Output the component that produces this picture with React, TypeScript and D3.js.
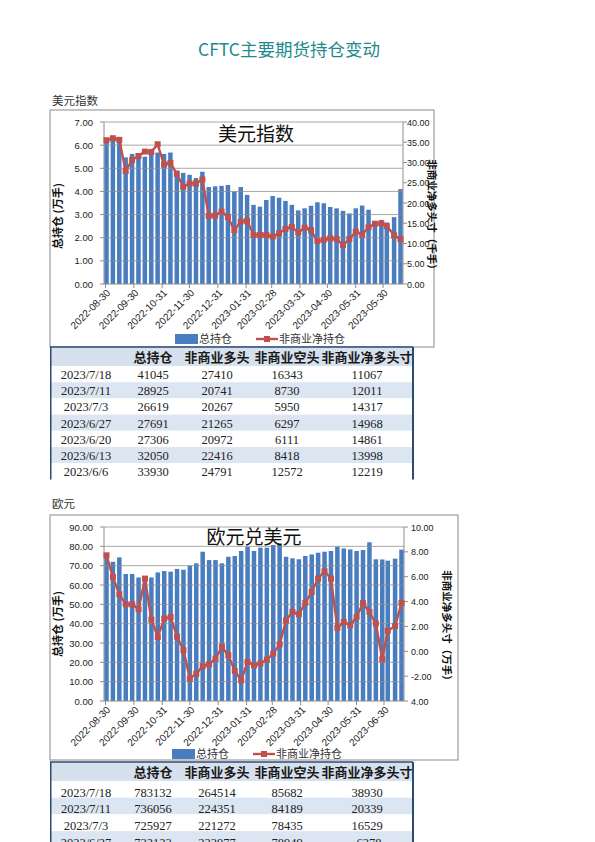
import React from 'react';
import * as d3 from 'd3';

const DATES = ["2022-08-30","2022-09-06","2022-09-13","2022-09-20","2022-09-27","2022-10-04","2022-10-11","2022-10-18","2022-10-25","2022-11-01","2022-11-08","2022-11-15","2022-11-22","2022-11-29","2022-12-06","2022-12-13","2022-12-20","2022-12-27","2023-01-03","2023-01-10","2023-01-17","2023-01-24","2023-01-31","2023-02-07","2023-02-14","2023-02-21","2023-02-28","2023-03-07","2023-03-14","2023-03-21","2023-03-28","2023-04-04","2023-04-11","2023-04-18","2023-04-25","2023-05-02","2023-05-09","2023-05-16","2023-05-23","2023-05-30","2023-06-06","2023-06-13","2023-06-20","2023-06-27","2023-07-03","2023-07-11","2023-07-18"];

const X_TICK_DATES = ["2022-08-30","2022-09-30","2022-10-31","2022-11-30","2022-12-31","2023-01-31","2023-02-28","2023-03-31","2023-04-30","2023-05-31","2023-06-30"];
const USD_X_LABELS = ["2022-08-30","2022-09-30","2022-10-31","2022-11-30","2022-12-31","2023-01-31","2023-02-28","2023-03-31","2023-04-30","2023-05-31","2023-05-30"];
const EUR_X_LABELS = ["2022-08-30","2022-09-30","2022-10-31","2022-11-30","2022-12-31","2023-01-31","2023-02-28","2023-03-31","2023-04-30","2023-05-31","2023-06-30"];

// 美元指数: 总持仓 (万手), 非商业净持仓 (千手)
const USD_TOTAL = [6.15, 6.28, 6.22, 5.47, 5.62, 5.54, 5.50, 5.70, 5.68, 5.62, 5.68, 4.90, 4.80, 4.72, 4.58, 4.85, 4.19, 4.22, 4.24, 4.28, 4.00, 4.19, 3.85, 3.42, 3.34, 3.63, 3.80, 3.73, 3.59, 3.42, 3.18, 3.27, 3.38, 3.53, 3.49, 3.33, 3.27, 3.16, 3.05, 3.27, 3.39, 3.21, 2.73, 2.77, 2.66, 2.89, 4.10];
const USD_NET = [35.5, 36.0, 35.6, 27.9, 30.6, 31.6, 32.7, 32.6, 34.5, 29.5, 29.9, 27.2, 24.0, 24.8, 24.8, 25.8, 16.8, 16.9, 17.9, 16.5, 13.3, 15.4, 15.6, 12.1, 12.1, 12.1, 11.7, 12.5, 13.6, 14.1, 12.7, 13.9, 13.3, 10.6, 10.9, 11.3, 11.1, 9.6, 11.1, 12.9, 12.22, 14.0, 14.86, 14.97, 14.32, 12.01, 11.07];
const USD_LEFT_TICKS = [0, 1, 2, 3, 4, 5, 6, 7];
const USD_LEFT_LABELS = ["0.00", "1.00", "2.00", "3.00", "4.00", "5.00", "6.00", "7.00"];
const USD_RIGHT_TICKS = [0, 5, 10, 15, 20, 25, 30, 35, 40];
const USD_RIGHT_LABELS = ["0.00", "5.00", "10.00", "15.00", "20.00", "25.00", "30.00", "35.00", "40.00"];

// 欧元: 总持仓 (万手), 非商业净持仓 (万手)
const EUR_TOTAL = [75.5, 72.0, 74.3, 65.7, 65.7, 63.9, 63.9, 63.9, 66.5, 67.2, 66.9, 68.3, 67.9, 70.0, 71.2, 77.2, 72.9, 72.9, 71.2, 74.6, 75.0, 77.6, 79.8, 77.6, 79.3, 79.3, 80.7, 81.6, 74.6, 73.8, 73.3, 75.0, 75.8, 76.7, 77.2, 77.6, 79.8, 78.9, 78.4, 77.6, 78.1, 82.1, 73.3, 73.2, 72.6, 73.6, 78.3];
const EUR_NET = [7.72, 5.98, 4.58, 3.78, 3.78, 3.38, 5.85, 2.55, 1.15, 2.63, 2.76, 1.18, 0.08, -2.2, -1.8, -1.2, -1.05, -0.59, 0.35, -0.32, -1.58, -2.33, -0.86, -1.13, -0.99, -0.67, -0.19, 0.56, 2.49, 3.16, 2.98, 3.89, 4.77, 5.85, 6.44, 5.85, 1.88, 2.36, 2.09, 2.76, 3.89, 3.16, 2.23, -0.64, 1.65, 2.03, 3.89];
const EUR_LEFT_TICKS = [0, 10, 20, 30, 40, 50, 60, 70, 80, 90];
const EUR_LEFT_LABELS = ["0.00", "10.00", "20.00", "30.00", "40.00", "50.00", "60.00", "70.00", "80.00", "90.00"];
const EUR_RIGHT_TICKS = [-4, -2, 0, 2, 4, 6, 8, 10];
const EUR_RIGHT_LABELS = ["4.00", "-2.00", "0.00", "2.00", "4.00", "6.00", "8.00", "10.00"];

const TABLE_HEADER = ["", "总持仓", "非商业多头", "非商业空头", "非商业净多头寸"];
const USD_TABLE_DATES = ["2023/7/18", "2023/7/11", "2023/7/3", "2023/6/27", "2023/6/20", "2023/6/13", "2023/6/6"];
const USD_TABLE_TOTAL = ["41045", "28925", "26619", "27691", "27306", "32050", "33930"];
const USD_TABLE_LONG = ["27410", "20741", "20267", "21265", "20972", "22416", "24791"];
const USD_TABLE_SHORT = ["16343", "8730", "5950", "6297", "6111", "8418", "12572"];
const USD_TABLE_NET = ["11067", "12011", "14317", "14968", "14861", "13998", "12219"];

const EUR_TABLE_DATES = ["2023/7/18", "2023/7/11", "2023/7/3", "2023/6/27"];
const EUR_TABLE_TOTAL = ["783132", "736056", "725927", "732123"];
const EUR_TABLE_LONG = ["264514", "224351", "221272", "223977"];
const EUR_TABLE_SHORT = ["85682", "84189", "78435", "78949"];
const EUR_TABLE_NET = ["38930", "20339", "16529", "-6378"];

const FONT_CJK = "'Noto Sans CJK SC', 'Noto Sans', sans-serif";
const FONT_SANS = "'Liberation Sans', Arial, sans-serif";
const FONT_SERIF = "'Liberation Serif', 'DejaVu Serif', serif";
const BAR = '#4a7dbf';
const LINE = '#c0504d';
const GRID = '#8e8e8e';

type ChartCfg = {
  id: string;
  boxX: number; boxY: number; boxW: number; boxH: number;
  plotL: number; plotR: number; plotT: number; plotB: number;
  title: string; titleX: number; titleY: number;
  total: number[]; net: number[];
  leftDomain: [number, number]; leftTicks: number[]; leftLabels: string[];
  rightDomain: [number, number]; rightTicks: number[]; rightLabels: string[];
  xLabels: string[];
  leftTitle: string; leftTitleY: number;
  rightTitle: string; rightTitleX: number; rightTitleY: number;
  rightLabelX: number;
  legendY: number; legendX: number;
};

const parse = d3.timeParse('%Y-%m-%d');

function Chart({ c }: { c: ChartCfg }) {
  const dates = DATES.map((d) => parse(d) as Date);
  const x = d3.scaleTime().domain([dates[0], dates[dates.length - 1]]).range([c.plotL + 2.5, c.plotR - 2.5]);
  const yL = d3.scaleLinear().domain(c.leftDomain).range([c.plotB, c.plotT]);
  const yR = d3.scaleLinear().domain(c.rightDomain).range([c.plotB, c.plotT]);
  const line = d3.line<number>().x((_, i) => x(dates[i])).y((d) => yR(d));
  const barW = 4.5;
  const tickDates = X_TICK_DATES.map((d) => parse(d) as Date);
  return (
    <g>
      <rect x={c.boxX} y={c.boxY} width={c.boxW} height={c.boxH} fill="#fff" stroke="#8a8a8a" strokeWidth={1} />
      {c.total.map((v, i) => (
        <rect key={i} x={x(dates[i]) - barW / 2} y={yL(v)} width={barW} height={yL(c.leftDomain[0]) - yL(v)} fill={BAR} />
      ))}
      {c.leftTicks.map((t, i) => (
        <g key={i}>
          {i > 0 && <line x1={c.plotL} x2={c.plotR} y1={yL(t)} y2={yL(t)} stroke={GRID} strokeWidth={0.9} opacity={0.85} />}
          <line x1={c.plotL - 4} x2={c.plotL} y1={yL(t)} y2={yL(t)} stroke={GRID} />
          <text x={c.plotL - 11} y={yL(t) + 3.5} textAnchor="end" fontFamily={FONT_SANS} fontSize={9.5} fill="#222">{c.leftLabels[i]}</text>
        </g>
      ))}
      <text x={c.titleX} y={c.titleY} textAnchor="middle" fontFamily={FONT_CJK} fontSize={19} fill="#111">{c.title}</text>
      <line x1={c.plotL} x2={c.plotL} y1={c.plotT} y2={c.plotB} stroke={GRID} />
      <line x1={c.plotR} x2={c.plotR} y1={c.plotT} y2={c.plotB} stroke={GRID} />
      <line x1={c.plotL} x2={c.plotR} y1={c.plotB} y2={c.plotB} stroke={GRID} />
      {c.rightTicks.map((t, i) => (
        <g key={i}>
          <line x1={c.plotR} x2={c.plotR + 4} y1={yR(t)} y2={yR(t)} stroke={GRID} />
          <text x={c.rightLabelX} y={yR(t) + 3.5} textAnchor="start" fontFamily={FONT_SANS} fontSize={9} fill="#222">{c.rightLabels[i]}</text>
        </g>
      ))}
      {tickDates.map((d, i) => {
        const tx = x(d) - 1;
        return (
          <g key={i}>
            <line x1={tx} x2={tx} y1={c.plotB} y2={c.plotB + 4} stroke={GRID} />
            <text transform={`translate(${tx + 3},${c.plotB + 7}) rotate(-45)`} textAnchor="end" dy="0.35em" fontFamily={FONT_SANS} fontSize={10} fill="#222">{c.xLabels[i]}</text>
          </g>
        );
      })}
      <path d={line(c.net) || ''} fill="none" stroke={LINE} strokeWidth={2.4} strokeLinejoin="round" />
      {c.net.map((v, i) => (
        <rect key={i} x={x(dates[i]) - 3} y={yR(v) - 3} width={6} height={6} fill={LINE} />
      ))}
      <text transform={`translate(62,${c.leftTitleY}) rotate(-90)`} textAnchor="middle" fontFamily={FONT_CJK} fontWeight="bold" fontSize={11} fill="#111">{c.leftTitle}</text>
      <text transform={`translate(${c.rightTitleX},${c.rightTitleY}) rotate(90)`} textAnchor="middle" fontFamily={FONT_CJK} fontWeight="bold" fontSize={10.5} fill="#111">{c.rightTitle}</text>
      <rect x={c.legendX} y={c.legendY - 5} width={23} height={10} fill={BAR} />
      <text x={c.legendX + 24} y={c.legendY + 4} fontFamily={FONT_CJK} fontSize={11} fill="#333">总持仓</text>
      <line x1={c.legendX + 81} x2={c.legendX + 103} y1={c.legendY} y2={c.legendY} stroke={LINE} strokeWidth={2.4} />
      <rect x={c.legendX + 89} y={c.legendY - 3} width={6} height={6} fill={LINE} />
      <text x={c.legendX + 104} y={c.legendY + 4} fontFamily={FONT_CJK} fontSize={11} fill="#333">非商业净持仓</text>
    </g>
  );
}

type TableCfg = {
  id: string; top: number; headerH: number; rowH: number; baseOff: number;
  dates: string[]; cols: string[][];
};

const COL_X = [86, 153, 217, 287, 367];

function Table({ t }: { t: TableCfg }) {
  const left = 50, right = 413;
  const n = t.dates.length;
  const bottom = t.top + t.headerH + n * t.rowH;
  return (
    <g>
      <defs>
        <clipPath id={`clip-${t.id}`}>
          <rect x={left} y={t.top} width={right - left} height={bottom - t.top} />
        </clipPath>
      </defs>
      <g clipPath={`url(#clip-${t.id})`}>
        <rect x={left} y={t.top} width={right - left} height={t.headerH} fill="#d7e1ee" />
        {t.dates.map((_, r) => (
          <rect key={r} x={left} y={t.top + t.headerH + r * t.rowH} width={right - left} height={t.rowH} fill={r % 2 === 1 ? '#dce6f2' : '#ffffff'} />
        ))}
        {TABLE_HEADER.map((h, i) => (
          <text key={i} x={COL_X[i]} y={t.top + t.headerH - 4.5} textAnchor="middle" fontFamily={FONT_CJK} fontWeight="bold" fontSize={13} fill="#1a1a1a">{h}</text>
        ))}
        {t.dates.map((d, r) => {
          const y = t.top + t.headerH + r * t.rowH + t.baseOff;
          const vals = [d, ...t.cols.map((c) => c[r])];
          return vals.map((v, i) => (
            <text key={`${r}-${i}`} x={COL_X[i]} y={y} textAnchor="middle" fontFamily={FONT_SERIF} fontSize={12.5} fill="#222">{v}</text>
          ));
        })}
      </g>
      <line x1={left} x2={right} y1={t.top} y2={t.top} stroke="#2d4a75" strokeWidth={1.5} />
      <line x1={left + 0.75} x2={left + 0.75} y1={t.top} y2={bottom} stroke="#2d4a75" strokeWidth={1.5} />
      <line x1={right} x2={right} y1={t.top} y2={bottom} stroke="#2d4a75" strokeWidth={2} />
    </g>
  );
}

const usdCfg: ChartCfg = {
  id: 'usd', boxX: 50, boxY: 110, boxW: 384, boxH: 237,
  plotL: 104, plotR: 403, plotT: 122, plotB: 284,
  title: '美元指数', titleX: 256, titleY: 141,
  total: USD_TOTAL, net: USD_NET,
  leftDomain: [0, 7], leftTicks: USD_LEFT_TICKS, leftLabels: USD_LEFT_LABELS,
  rightDomain: [0, 40], rightTicks: USD_RIGHT_TICKS, rightLabels: USD_RIGHT_LABELS,
  xLabels: USD_X_LABELS,
  leftTitle: '总持仓 (万手)', leftTitleY: 216,
  rightTitle: '非商业净多头寸（千手）', rightTitleX: 428, rightTitleY: 217,
  rightLabelX: 407,
  legendY: 339, legendX: 175,
};

const eurCfg: ChartCfg = {
  id: 'eur', boxX: 50, boxY: 515, boxW: 408, boxH: 245,
  plotL: 104, plotR: 404, plotT: 527, plotB: 701,
  title: '欧元兑美元', titleX: 254, titleY: 544,
  total: EUR_TOTAL, net: EUR_NET,
  leftDomain: [0, 90], leftTicks: EUR_LEFT_TICKS, leftLabels: EUR_LEFT_LABELS,
  rightDomain: [-4, 10], rightTicks: EUR_RIGHT_TICKS, rightLabels: EUR_RIGHT_LABELS,
  xLabels: EUR_X_LABELS,
  leftTitle: '总持仓 (万手)', leftTitleY: 624,
  rightTitle: '非商业净多头寸（万手）', rightTitleX: 443, rightTitleY: 628,
  rightLabelX: 411,
  legendY: 754, legendX: 172,
};

const usdTable: TableCfg = {
  id: 'usdt', top: 347, headerH: 19, rowH: 16.2, baseOff: 13,
  dates: USD_TABLE_DATES, cols: [USD_TABLE_TOTAL, USD_TABLE_LONG, USD_TABLE_SHORT, USD_TABLE_NET],
};

const eurTable: TableCfg = {
  id: 'eurt', top: 762, headerH: 19, rowH: 16.7, baseOff: 15.5,
  dates: EUR_TABLE_DATES, cols: [EUR_TABLE_TOTAL, EUR_TABLE_LONG, EUR_TABLE_SHORT, EUR_TABLE_NET],
};

export default function App() {
  return (
    <svg width={595} height={842} style={{ position: 'absolute', left: 0, top: 0, background: '#fff' }}>
      <rect x={0} y={0} width={595} height={842} fill="#fff" />
      <text x={289} y={56} textAnchor="middle" fontFamily={FONT_CJK} fontSize={17.5} fill="#1e8a8e">CFTC主要期货持仓变动</text>
      <text x={52} y={105} fontFamily={FONT_CJK} fontSize={11.5} fill="#333">美元指数</text>
      <Chart c={usdCfg} />
      <Table t={usdTable} />
      <text x={52} y={508} fontFamily={FONT_CJK} fontSize={11.5} fill="#333">欧元</text>
      <Chart c={eurCfg} />
      <Table t={eurTable} />
    </svg>
  );
}
